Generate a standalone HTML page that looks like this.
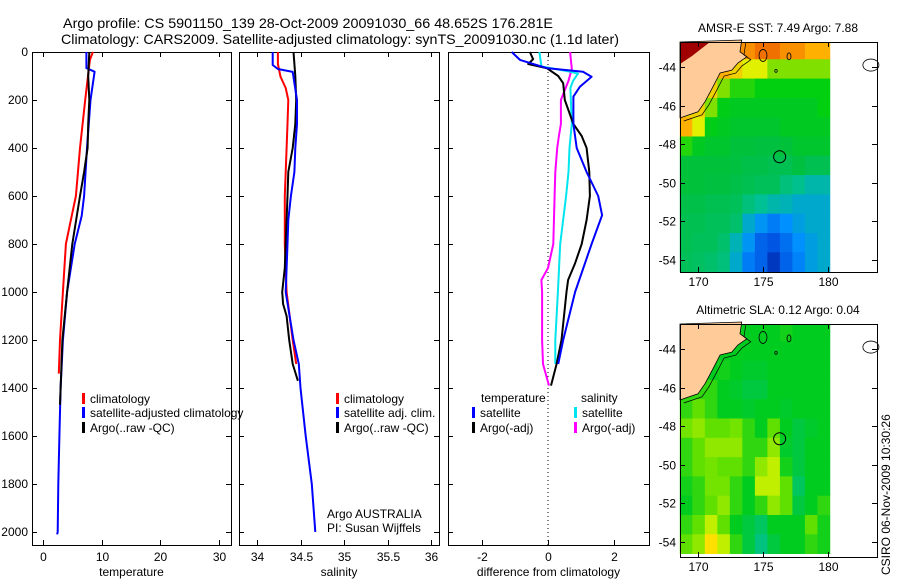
<!DOCTYPE html>
<html><head><meta charset="utf-8"><style>
html,body{margin:0;padding:0;background:#fff}
svg{display:block;font-family:"Liberation Sans",sans-serif}
text{fill:#000}
</style></head><body>
<svg id="chart" width="900" height="580" viewBox="0 0 900 580" xmlns="http://www.w3.org/2000/svg">
<text x="63" y="28" font-size="14" textLength="490" lengthAdjust="spacingAndGlyphs">Argo profile: CS 5901150_139 28-Oct-2009 20091030_66 48.652S 176.281E</text>
<text x="61" y="44" font-size="14" textLength="558" lengthAdjust="spacingAndGlyphs">Climatology: CARS2009. Satellite-adjusted climatology: synTS_20091030.nc (1.1d later)</text>
<g id="g"></g>
</svg>
<script>
// ---------- profile data (depth m, value) ----------
const tempClimDepth=[0,33,200,400,600,683,800,1000,1200,1340];
const tempClim=[8.5,8.0,7.2,6.3,5.6,4.9,3.9,3.4,2.9,2.7];
const tempSatDepth=[0,67,82,200,400,600,683,800,1000,1200,1400,1600,1800,2000,2010];
const tempSat=[7.4,7.4,8.8,8.1,7.5,7.0,6.6,5.4,4.1,3.4,3.0,2.8,2.6,2.5,2.4];
const tempArgoDepth=[0,100,200,300,400,500,600,800,1000,1200,1470];
const tempArgo=[7.9,7.7,7.9,7.7,7.6,7.0,6.3,5.0,4.1,3.3,2.9];

const salClimDepth=[0,50,103,150,200,300,400,500,600,800,1000,1200,1300];
const salClim=[34.24,34.24,34.27,34.33,34.36,34.35,34.34,34.33,34.32,34.32,34.34,34.41,34.45];
const salSatDepth=[0,54,71,83,200,300,400,500,600,700,800,1000,1200,1300,1400,1600,1800,2000];
const salSat=[34.18,34.18,34.24,34.41,34.46,34.46,34.44,34.43,34.39,34.36,34.35,34.33,34.42,34.48,34.50,34.56,34.63,34.67];
const salArgoDepth=[0,100,200,300,400,500,600,800,900,1000,1050,1100,1200,1300,1370];
const salArgo=[34.42,34.44,34.45,34.44,34.41,34.36,34.35,34.33,34.32,34.29,34.30,34.34,34.37,34.41,34.47];

const dTempSatDepth=[0,33,67,82,103,144,186,300,400,500,600,680,800,1000,1200,1300];
const dTempSat=[-1.10,-0.85,-0.04,1.06,1.32,0.97,0.77,0.77,0.87,1.17,1.52,1.64,1.32,0.82,0.46,0.31];
const dTempArgoDepth=[0,30,50,67,100,130,200,300,350,400,500,600,700,800,880,950,1000,1200,1300,1390];
const dTempArgo=[-0.55,-0.45,-0.60,-0.04,0.31,0.46,0.51,0.77,1.02,1.17,1.25,1.27,1.17,1.02,0.82,0.61,0.56,0.41,0.26,0.09];
const dSalSatDepth=[0,60,82,90,120,150,300,400,500,600,800,1000,1200,1300];
const dSalSat=[-0.26,-0.20,0.66,0.91,0.76,0.68,0.72,0.65,0.62,0.55,0.37,0.30,0.22,0.22];
const dSalArgoDepth=[0,70,120,200,300,350,400,500,600,800,900,950,1000,1200,1300,1390];
const dSalArgo=[0.67,0.72,0.62,0.39,0.39,0.33,0.28,0.22,0.20,0.16,0.0,-0.20,-0.18,-0.18,-0.15,0.03];

const depthTicks=[0,200,400,600,800,1000,1200,1400,1600,1800,2000];
const tempTicks=[0,10,20,30];
const salTicks=[34,34.5,35,35.5,36];
const diffTicks=[-2,0,2];

// ---------- map data ----------
const latTicks=[-44,-46,-48,-50,-52,-54];
const lonTicks=[170,175,180];
const gridLon0=168.6, gridLon1=180.15, gridLat0=-42.6, gridLat1=-54.6;
const sstGrid=[
[10,10,10,10,11,11,11.5,11.5,11,11,10.5,10.5],
[10,10,10,10.5,10,9.5,9.5,9,9,9,9,9],
[10,10,10,9,8.5,8.5,8.3,8.3,8.3,8.3,8.3,8.3],
[10,10,9,8.2,8,8,8,8,8,8,8,8.3],
[10.5,9.5,8.2,8,7.8,7.8,7.8,7.8,8,8,8,8],
[8.5,8,7.8,7.8,7.6,7.6,7.5,7.5,7.6,7.8,7.8,7.8],
[7.6,7.6,7.6,7.6,7.5,7.4,7.4,7.3,7.3,7.5,7.3,7.3],
[7.6,7.6,7.5,7.5,7.4,7.3,7.2,7.2,6.8,6.6,6.3,6.3],
[7.4,7.4,7.3,7.3,7.2,6.8,6.5,6.3,6.2,6.0,6.0,6.0],
[7.3,7.3,7.2,7.2,7.0,6.0,5.6,5.2,5.5,5.8,6.0,6.0],
[7.3,7.2,7.2,7.0,6.2,5.6,4.8,4.6,5.0,5.5,5.8,6.0],
[7.2,7.1,7.0,6.8,6.0,5.2,4.8,4.0,4.8,5.3,5.8,6.0]];
const slaGrid=[
[0,0,0,0,0.02,0,0,0,0.02,0,0,0],
[0,0,0,0,0,0,0,0,0,0,0,0],
[0,0,0,0.02,0,-0.02,-0.02,0,0,0,0,0],
[0.05,0.05,0.05,0,-0.02,-0.05,-0.05,0,0,0,0,0],
[0.05,0.1,0.05,0,0,-0.02,0,0,-0.02,0,0,0],
[0.12,0.15,0.1,0.1,0.12,0.05,0,0.1,0,-0.05,-0.02,0],
[0.05,0.1,0.15,0.15,0.15,0.05,0.05,0.15,-0.02,-0.05,0,0],
[0.05,0.1,0.12,0.1,0.1,0.05,0.15,0.2,0.02,-0.05,0,0],
[0.02,0.05,0.12,0.12,0.05,0,0.2,0.2,0.1,-0.1,0,0],
[0,0.05,0.1,0.15,0.05,0,0.05,0.15,0.1,-0.05,0,0.05],
[0.05,0.1,0.2,0.1,0,-0.05,-0.1,0,0,0,0.1,0.02],
[0.1,0.15,0.3,0.2,0.05,-0.05,-0.15,-0.05,0,0,0.05,0.02]];
const sstStops=[[3.5,[0,32,160]],[4.5,[0,80,224]],[5.5,[0,144,255]],[6.5,[0,192,150]],[7.5,[0,192,64]],[8.3,[0,208,16]],[9,[128,224,0]],[9.5,[224,240,0]],[10.5,[255,176,0]],[11.5,[240,112,0]],[14,[160,0,0]]];
const slaStops=[[-0.2,[0,192,160]],[0,[0,204,32]],[0.1,[96,224,0]],[0.2,[192,240,0]],[0.3,[255,224,0]]];
const argoLon=176.28, argoLat=-48.65;
const coastLon=[173.36,173.23,173.75,173.08,172.6,171.7,171.15,170.54,170.0,168.6];
const coastLat=[-42.6,-43.21,-43.47,-43.79,-44.16,-44.31,-45.02,-45.8,-46.32,-46.64];

const NS="http://www.w3.org/2000/svg";
const G=document.getElementById('g');
function mk(t,a,p){const e=document.createElementNS(NS,t);for(const k in a)e.setAttribute(k,a[k]);(p||G).appendChild(e);return e;}
function lin(d0,d1,r0,r1){return v=>r0+(v-d0)*(r1-r0)/(d1-d0);}
const yD=lin(0,2000,52,532);
const xT=lin(0,30,43,219), xS=lin(34,36,257,431), xDf=lin(-2,2,482,614);
const panels=[{x0:32,x1:231,sx:xT,ticks:tempTicks,lab:'temperature',n:'temperature'},
{x0:239,x1:439,sx:xS,ticks:salTicks,lab:'salinity',n:'salinity'},
{x0:448,x1:649,sx:xDf,ticks:diffTicks,lab:'difference from climatology',n:'difference'}];
const PT=52,PB=545;
panels.forEach((p,i)=>{
  const g=mk('g',{});
  
  
  const r=mk('rect',{x:p.x0+0.5,y:PT+0.5,width:p.x1-p.x0,height:PB-PT,fill:'none',stroke:'#000','stroke-width':1},g);
  
  
  p.ticks.forEach(t=>{
    const x=Math.round(p.sx(t))+0.5;
    mk('line',{x1:x,x2:x,y1:PT,y2:PT+5,stroke:'#000'},g);
    mk('line',{x1:x,x2:x,y1:PB,y2:PB-5,stroke:'#000'},g);
    const tx=mk('text',{x:x,y:561,'font-size':12,'text-anchor':'middle'},g);
    tx.textContent=String(t);
    
    
  });
  const tl=mk('text',{x:(p.x0+p.x1)/2,y:576,'font-size':12,'text-anchor':'middle'},g);
  tl.textContent=p.lab;
  
  
  depthTicks.forEach(d=>{
    const y=Math.round(yD(d))+0.5;
    mk('line',{x1:p.x0,x2:p.x0+5,y1:y,y2:y,stroke:'#000'},g);
    mk('line',{x1:p.x1,x2:p.x1-5,y1:y,y2:y,stroke:'#000'},g);
  });
});
depthTicks.forEach(d=>{
  const t=mk('text',{x:28,y:yD(d)+4,'font-size':12,'text-anchor':'end'});
  t.textContent=String(d);
  
  
});
// zero line in diff panel
const zl=mk('line',{x1:xDf(0),x2:xDf(0),y1:PT,y2:PB,stroke:'#000','stroke-dasharray':'1,3'});



function profile(depths,vals,sx,color,name,w){
  const pts=depths.map((d,i)=>sx(vals[i]).toFixed(1)+','+yD(d).toFixed(1)).join(' ');
  const l=mk('polyline',{points:pts,fill:'none',stroke:color,'stroke-width':w||2,'stroke-linejoin':'round'});
  
  
}
profile(tempClimDepth,tempClim,xT,'#ff0000','temp-climatology-line');
profile(tempSatDepth,tempSat,xT,'#0000ff','temp-satellite-adjusted-line');
profile(tempArgoDepth,tempArgo,xT,'#000000','temp-argo-line');
profile(salClimDepth,salClim,xS,'#ff0000','salinity-climatology-line');
profile(salArgoDepth,salArgo,xS,'#000000','salinity-argo-line');
profile(salSatDepth,salSat,xS,'#0000ff','salinity-satellite-adjusted-line');
profile(dSalArgoDepth,dSalArgo,xDf,'#ff00ff','diff-salinity-argo-line');
profile(dSalSatDepth,dSalSat,xDf,'#00e5ee','diff-salinity-satellite-line');
profile(dTempArgoDepth,dTempArgo,xDf,'#000000','diff-temp-argo-line');
profile(dTempSatDepth,dTempSat,xDf,'#0000ff','diff-temp-satellite-line');

function legend(x,y,color,label,name){
  const m=mk('rect',{x:x-1,y:y-9,width:3,height:11,fill:color});
  
  
  const t=mk('text',{x:x+7,y:y+1,'font-size':12});
  t.textContent=label;
  
  
}
legend(83,402,'#ff0000','climatology','legend-temp-climatology');
legend(83,416,'#0000ff','satellite-adjusted climatology','legend-temp-satellite');
legend(83,431,'#000','Argo(..raw -QC)','legend-temp-argo');
legend(337,402,'#ff0000','climatology','legend-sal-climatology');
legend(337,416,'#0000ff','satellite adj. clim.','legend-sal-satellite');
legend(337,431,'#000','Argo(..raw -QC)','legend-sal-argo');
let tt=mk('text',{x:481,y:402,'font-size':12});tt.textContent='temperature';


tt=mk('text',{x:581,y:402,'font-size':12});tt.textContent='salinity';


legend(473,416,'#0000ff','satellite','legend-diff-temp-satellite');
legend(473,431,'#000','Argo(-adj)','legend-diff-temp-argo');
legend(575,416,'#00e5ee','satellite','legend-diff-sal-satellite');
legend(575,431,'#ff00ff','Argo(-adj)','legend-diff-sal-argo');
tt=mk('text',{x:327,y:518,'font-size':12});tt.textContent='Argo AUSTRALIA';


tt=mk('text',{x:327,y:532,'font-size':12});tt.textContent='PI: Susan Wijffels';



// ---------- maps ----------
function colorFor(v,stops){
  if(v<=stops[0][0])return stops[0][1];
  for(let i=1;i<stops.length;i++){if(v<=stops[i][0]){const a=stops[i-1],b=stops[i];const f=(v-a[0])/(b[0]-a[0]);return a[1].map((c,k)=>Math.round(c+(b[1][k]-c)*f));}}
  return stops[stops.length-1][1];
}
function drawMap(top,bottom,grid,stops,title,name){
  const L=680,R=877;
  const xL=lin(170,180,698,828), yL=lin(-44,-54,top+25,top+218);
  const g=mk('g',{});
  
  
  const nr=grid.length,nc=grid[0].length;
  const dLon=(gridLon1-gridLon0)/nc, dLat=(gridLat0-gridLat1)/nr;
  grid.forEach((row,i)=>row.forEach((v,j)=>{
    const x0=xL(gridLon0+j*dLon),x1=xL(gridLon0+(j+1)*dLon);
    const y0=yL(gridLat0-i*dLat),y1=yL(gridLat0-(i+1)*dLat);
    const c=colorFor(v,stops);
    const r=mk('rect',{x:x0.toFixed(2),y:Math.max(y0,top).toFixed(2),width:(x1-x0+0.4).toFixed(2),height:(Math.min(y1,bottom)-Math.max(y0,top)+0.4).toFixed(2),fill:`rgb(${c[0]},${c[1]},${c[2]})`},g);
    
    
  }));
  // land
  const cp=coastLon.map((lo,i)=>xL(lo).toFixed(1)+','+yL(coastLat[i]).toFixed(1));
  const land=mk('polygon',{points:[L+','+top].concat(cp).concat([L+','+yL(-46.64)]).join(' '),fill:'#ffcc99',stroke:'#000','stroke-width':0.8},g);
  
  
  if(name==='sst-map'){
    const dr=mk('polygon',{points:`${L},${top} ${L+30},${top} ${L+12},${top+14} ${L},${top+22}`,fill:'#a00000'},g);
    
    
  }
  const shelf=mk('polyline',{points:coastLon.map((lo,i)=>(xL(lo)+4).toFixed(1)+','+(yL(coastLat[i])+3).toFixed(1)).join(' '),fill:'none',stroke:'#000','stroke-width':0.7},g);
  
  
  [[175.0,-43.4,4,6],[177.0,-43.45,2,3.5],[176.0,-44.2,1.2,1.5],[183.3,-43.9,8,6]].forEach(e=>{
    const el=mk('ellipse',{cx:xL(e[0]),cy:yL(e[1]),rx:e[2],ry:e[3],fill:'none',stroke:'#000','stroke-width':0.8},g);
    
    
  });
  const ac=mk('circle',{cx:xL(argoLon),cy:yL(argoLat),r:6,fill:'none',stroke:'#000','stroke-width':1},g);
  
  
  const fr=mk('rect',{x:L+0.5,y:top+0.5,width:R-L,height:bottom-top,fill:'none',stroke:'#000'},g);
  
  
  latTicks.forEach(la=>{
    const y=Math.round(yL(la))+0.5;
    mk('line',{x1:L,x2:L+5,y1:y,y2:y,stroke:'#000'},g);
    mk('line',{x1:R,x2:R-5,y1:y,y2:y,stroke:'#000'},g);
    const t=mk('text',{x:L-4,y:y+4,'font-size':12,'text-anchor':'end'},g);
    t.textContent=String(la);
    
    
  });
  lonTicks.forEach(lo=>{
    const x=Math.round(xL(lo))+0.5;
    mk('line',{x1:x,x2:x,y1:top,y2:top+5,stroke:'#000'},g);
    mk('line',{x1:x,x2:x,y1:bottom,y2:bottom-5,stroke:'#000'},g);
    const t=mk('text',{x:x,y:bottom+14,'font-size':12,'text-anchor':'middle'},g);
    t.textContent=String(lo);
    
    
  });
  const t=mk('text',{x:778,y:top-10,'font-size':12,'text-anchor':'middle'},g);
  t.textContent=title;
  
  
  // mask area right of data
  const m=mk('rect',{x:xL(gridLon1)+0.4,y:top+1,width:R-xL(gridLon1)-1,height:bottom-top-1,fill:'#fff'},g);
  g.insertBefore(m,land);
}
drawMap(42,272,sstGrid,sstStops,'AMSR-E SST: 7.49 Argo: 7.88','sst-map');
drawMap(324,557,slaGrid,slaStops,'Altimetric SLA: 0.12 Argo: 0.04','sla-map');
tt=mk('text',{x:0,y:0,'font-size':12,transform:'translate(890,575) rotate(-90)'});
tt.textContent='CSIRO 06-Nov-2009 10:30:26';


</script>
</body></html>
